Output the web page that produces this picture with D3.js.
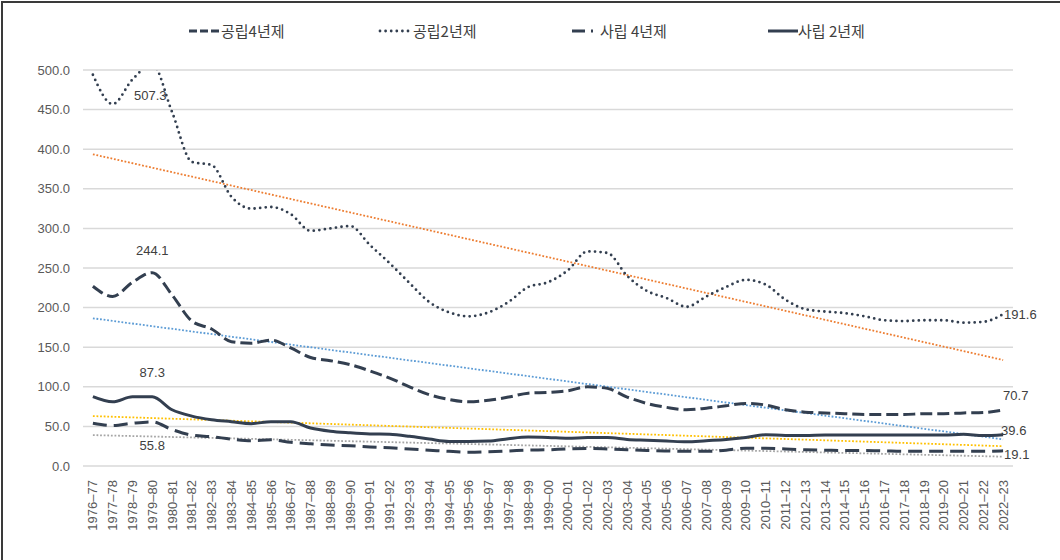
<!DOCTYPE html>
<html>
<head>
<meta charset="utf-8">
<script src="https://cdn.jsdelivr.net/npm/d3@7"></script>
<style>
  body { margin: 0; background: #fff; }
  svg { display: block; }
</style>
</head>
<body>
<svg id="chart" width="1060" height="560"></svg>
<script>
// Academic years (x categories)
const years = [
  "1976–77", "1977–78", "1978–79", "1979–80", "1980–81", "1981–82", "1982–83", "1983–84",
  "1984–85", "1985–86", "1986–87", "1987–88", "1988–89", "1989–90", "1990–91", "1991–92",
  "1992–93", "1993–94", "1994–95", "1995–96", "1996–97", "1997–98", "1998–99", "1999–00",
  "2000–01", "2001–02", "2002–03", "2003–04", "2004–05", "2005–06", "2006–07", "2007–08",
  "2008–09", "2009–10", "2010–11", "2011–12", "2012–13", "2013–14", "2014–15", "2015–16",
  "2016–17", "2017–18", "2018–19", "2019–20", "2020–21", "2021–22", "2022–23"
];

// 공립4년제
const public4 = [
  227, 214, 232, 244.1, 216, 183, 173, 157, 155, 159, 149, 137, 133, 128, 120, 111,
  100, 90, 84, 81, 83, 87, 92, 93, 95, 100, 98, 87, 79, 74, 71, 73,
  76, 79, 77, 71, 68, 67, 66, 65, 65, 65, 66, 66, 67, 67.5, 70.7
];

// 공립2년제
const public2 = [
  494, 457, 488, 507.3, 447, 384, 380, 340, 325, 327, 318, 297, 300, 303, 279, 256,
  231, 207, 194, 189, 194, 207, 226, 232, 247, 271, 269, 240, 221, 212, 201, 214,
  226, 235, 229, 210, 198, 195, 193, 189, 184, 183, 184, 184, 181, 182, 191.6
];

// 사립 4년제
const private4 = [
  54, 51, 54, 55.8, 46, 39, 37, 34, 32, 33, 30, 28, 26.5, 25.5, 24, 23,
  21.5, 20, 18.5, 17.5, 18, 19, 20, 20.5, 21.5, 22, 21.5, 20.5, 19.5, 19, 18.5, 18.5,
  20, 22.5, 22.5, 21.5, 20.5, 20, 19.5, 19.5, 19, 18.5, 18.5, 18.5, 18.5, 18.5, 19.1
];

// 사립 2년제
const private2 = [
  87.5, 81, 87.3, 87.3, 71, 63, 58.5, 56, 53.5, 56, 56, 48, 44, 42, 40.5, 40,
  37.5, 34, 31, 31, 31.5, 34.5, 36.5, 36, 35, 36, 36, 33.5, 32.5, 31.5, 30.5, 32,
  33.5, 36, 39.5, 38.5, 38.5, 39, 39, 39, 39, 39, 39, 39, 40, 38.5, 39.6
];

const seriesNames = ["공립4년제", "공립2년제", "사립 4년제", "사립 2년제"];

// linear trend lines: value at first and last year
const trendStart = [186.5, 393.6, 39, 63];
const trendEnd = [33.7, 133.8, 11.8, 25];

const yTicks = [0, 50, 100, 150, 200, 250, 300, 350, 400, 450, 500];

// labelled points: [series index, year index]
const labelPoints = [
  [1, 3], [0, 3], [3, 3], [2, 3],
  [1, 46], [0, 46], [3, 46], [2, 46]
];

const allSeries = [public4, public2, private4, private2];

// styling
const navy = "#333f50";
const lineStyles = [
  { width: 3, dash: "12,5", cap: "butt", legendDash: "8,3" },
  { width: 2.8, dash: "0,5.6", cap: "round", legendDash: "0,5.6" },
  { width: 3, dash: "14,7", cap: "butt", legendDash: "13,6" },
  { width: 3, dash: null, cap: "butt", legendDash: null }
];
const trendColors = ["#5b9bd5", "#ed7d31", "#a5a5a5", "#ffc000"];

const margin = { top: 70, right: 47, bottom: 94, left: 83 };
const width = 1060, height = 560;

const svg = d3.select("#chart");

svg.append("rect").attr("width", width).attr("height", height).attr("fill", "#fff");

// outer frame (top and left edges visible)
svg.append("path")
  .attr("d", `M2,${height} L2,2 L${width},2`)
  .attr("fill", "none")
  .attr("stroke", "#3a3a3a")
  .attr("stroke-width", 2);

const x = d3.scaleBand()
  .domain(years)
  .range([margin.left, width - margin.right]);
const cx = (i) => x(years[i]) + x.bandwidth() / 2;

const y = d3.scaleLinear()
  .domain([0, 500])
  .range([height - margin.bottom, margin.top]);

// gridlines
svg.append("g")
  .selectAll("line")
  .data(yTicks)
  .join("line")
  .attr("x1", margin.left)
  .attr("x2", width - margin.right)
  .attr("y1", (d) => y(d))
  .attr("y2", (d) => y(d))
  .attr("stroke", "#d9d9d9")
  .attr("stroke-width", 1.5);

// y axis labels
svg.append("g")
  .selectAll("text")
  .data(yTicks)
  .join("text")
  .attr("x", 70)
  .attr("y", (d) => y(d))
  .attr("dy", "0.35em")
  .attr("text-anchor", "end")
  .attr("font-family", "Liberation Sans, Arial, sans-serif")
  .attr("font-size", 13)
  .attr("fill", "#595959")
  .text((d) => d.toFixed(1));

// x axis labels (rotated)
svg.append("g")
  .selectAll("text")
  .data(years)
  .join("text")
  .attr("transform", (d, i) => `translate(${cx(i)},480) rotate(-90)`)
  .attr("dy", "0.35em")
  .attr("text-anchor", "end")
  .attr("font-family", "Liberation Sans, Arial, sans-serif")
  .attr("font-size", 13)
  .attr("fill", "#595959")
  .text((d) => d);

// clip plot area
svg.append("clipPath")
  .attr("id", "plotClip")
  .append("rect")
  .attr("x", margin.left - 10)
  .attr("y", y(500))
  .attr("width", width - margin.left - margin.right + 20)
  .attr("height", y(0) - y(500) + 10);

const plot = svg.append("g").attr("clip-path", "url(#plotClip)");

// trend lines
trendColors.forEach((c, s) => {
  plot.append("line")
    .attr("x1", cx(0))
    .attr("x2", cx(years.length - 1))
    .attr("y1", y(trendStart[s]))
    .attr("y2", y(trendEnd[s]))
    .attr("stroke", c)
    .attr("stroke-width", 1.8)
    .attr("stroke-dasharray", "1.8,1.8");
});

const line = d3.line()
  .x((d, i) => cx(i))
  .y((d) => y(d))
  .curve(d3.curveMonotoneX);

allSeries.forEach((data, s) => {
  const st = lineStyles[s];
  plot.append("path")
    .datum(data)
    .attr("d", line)
    .attr("fill", "none")
    .attr("stroke", navy)
    .attr("stroke-width", st.width)
    .attr("stroke-linecap", st.cap)
    .attr("stroke-linejoin", "round")
    .attr("stroke-dasharray", st.dash);
});

// data labels
const labelFont = "Liberation Sans, Arial, sans-serif";
const labelOffsets = {
  "1,3": { dx: -2, dy: 31, anchor: "middle" },
  "0,3": { dx: 0, dy: -22, anchor: "middle" },
  "3,3": { dx: 0, dy: -24, anchor: "middle" },
  "2,3": { dx: 0, dy: 24, anchor: "middle" },
  "1,46": { dx: 1, dy: 0, anchor: "start" },
  "0,46": { dx: 0, dy: -15, anchor: "start" },
  "3,46": { dx: -2, dy: -4, anchor: "start" },
  "2,46": { dx: 1, dy: 4, anchor: "start" }
};

svg.append("g")
  .selectAll("text")
  .data(labelPoints)
  .join("text")
  .each(function (d) {
    const [s, i] = d;
    const v = allSeries[s][i];
    const o = labelOffsets[s + "," + i];
    d3.select(this)
      .attr("x", cx(i) + o.dx)
      .attr("y", y(v) + o.dy)
      .attr("dy", "0.35em")
      .attr("text-anchor", o.anchor)
      .text(v.toFixed(1));
  })
  .attr("font-family", labelFont)
  .attr("font-size", 13)
  .attr("fill", "#404040");

// legend
const legendX = [189, 380, 572, 768];
const legendW = [31, 33, 21, 30];
const legendTextX = [221, 413, 600, 798];
const legendY = 31;

const legend = svg.append("g");
seriesNames.forEach((name, s) => {
  const st = lineStyles[s];
  legend.append("line")
    .attr("x1", legendX[s])
    .attr("x2", legendX[s] + legendW[s])
    .attr("y1", legendY)
    .attr("y2", legendY)
    .attr("stroke", navy)
    .attr("stroke-width", st.width)
    .attr("stroke-linecap", st.cap)
    .attr("stroke-dasharray", st.legendDash);
  legend.append("text")
    .attr("x", legendTextX[s])
    .attr("y", legendY + 1)
    .attr("dy", "0.35em")
    .attr("font-family", "Noto Sans CJK KR, sans-serif")
    .attr("font-size", 15)
    .attr("fill", "#404040")
    .text(name);
});
</script>
</body>
</html>
